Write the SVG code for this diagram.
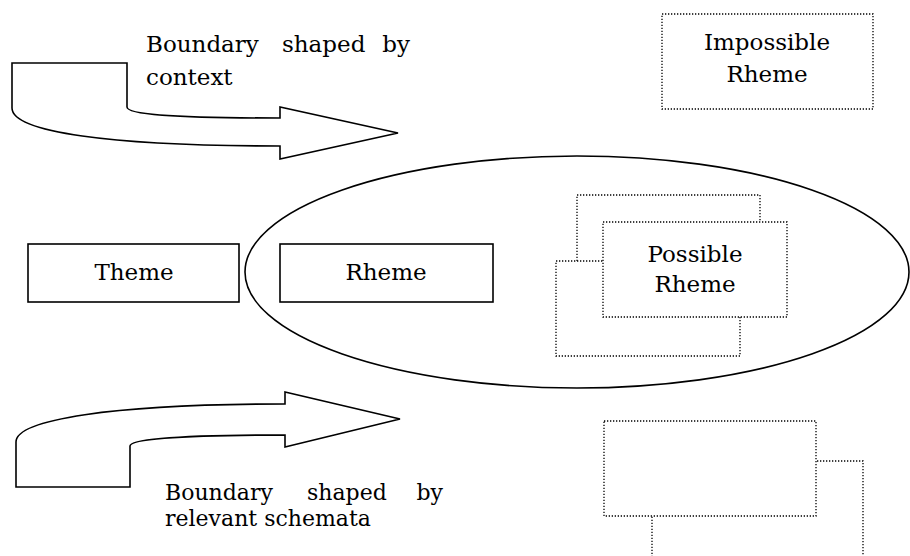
<svg xmlns="http://www.w3.org/2000/svg" width="910" height="556" viewBox="0 0 910 556">
  <style>
    .solid { fill: #ffffff; stroke: #000000; stroke-width: 1.6; stroke-linejoin: miter; }
    .outline { fill: none; stroke: #000000; stroke-width: 1.6; }
    .dotted { fill: #ffffff; stroke: #000000; stroke-width: 1.3; stroke-dasharray: 1.3 1.7; }
    .label { font-family: "DejaVu Serif", "Liberation Serif", serif; font-size: 23px; fill: #000000; }
    .small { font-size: 22px; }
    .mid { text-anchor: middle; }
    .end { text-anchor: end; }
  </style>
  <rect width="910" height="556" fill="#ffffff"/>

  <!-- rheme field: the ellipse bounding possible rhemes -->
  <g id="rheme-field">
    <ellipse class="outline" cx="577" cy="272" rx="332" ry="116"/>
  </g>

  <!-- block arrows marking the two boundaries -->
  <g id="boundary-arrows">
    <g id="boundary-context">
      <path class="solid" d="M12,63 H127 V107 C127,114 170,118 280,118 V107 L398,133 L280,159 V146 C110,146 12,132 12,108 Z"/>
      <text class="label" x="146" y="52">Boundary</text>
      <text class="label" x="282" y="52">shaped</text>
      <text class="label end" x="410" y="52">by</text>
      <text class="label" x="146" y="85">context</text>
    </g>
    <g id="boundary-schemata">
      <path class="solid" d="M16,487 H130 V446 C130,440 170,435 285,435 V447 L400,419 L285,392 V404 C110,404 16,420 16,442 Z"/>
      <text class="label small" x="165" y="500">Boundary</text>
      <text class="label small" x="307" y="500">shaped</text>
      <text class="label small end" x="443" y="500">by</text>
      <text class="label small" x="165" y="526">relevant schemata</text>
    </g>
  </g>

  <g id="theme">
    <rect class="solid" x="28" y="244" width="211" height="58"/>
    <text class="label mid" x="134" y="280">Theme</text>
  </g>

  <g id="rheme">
    <rect class="solid" x="280" y="244" width="213" height="58"/>
    <text class="label mid" x="386" y="280">Rheme</text>
  </g>

  <!-- stacked dotted cards: possible rhemes -->
  <g id="possible-rheme">
    <rect class="dotted" x="577" y="195" width="183" height="90"/>
    <rect class="dotted" x="556" y="261" width="184" height="95"/>
    <rect class="dotted" x="603" y="222" width="184" height="95"/>
    <text class="label mid" x="695" y="262">Possible</text>
    <text class="label mid" x="695" y="292">Rheme</text>
  </g>

  <g id="impossible-rheme">
    <rect class="dotted" x="662" y="14" width="211" height="95"/>
    <text class="label mid" x="767" y="50">Impossible</text>
    <text class="label mid" x="767" y="82">Rheme</text>
  </g>

  <!-- empty dotted cards, lower right -->
  <g id="empty-cards">
    <rect class="dotted" x="652" y="461" width="211" height="110"/>
    <rect class="dotted" x="604" y="421" width="212" height="95"/>
  </g>
</svg>
